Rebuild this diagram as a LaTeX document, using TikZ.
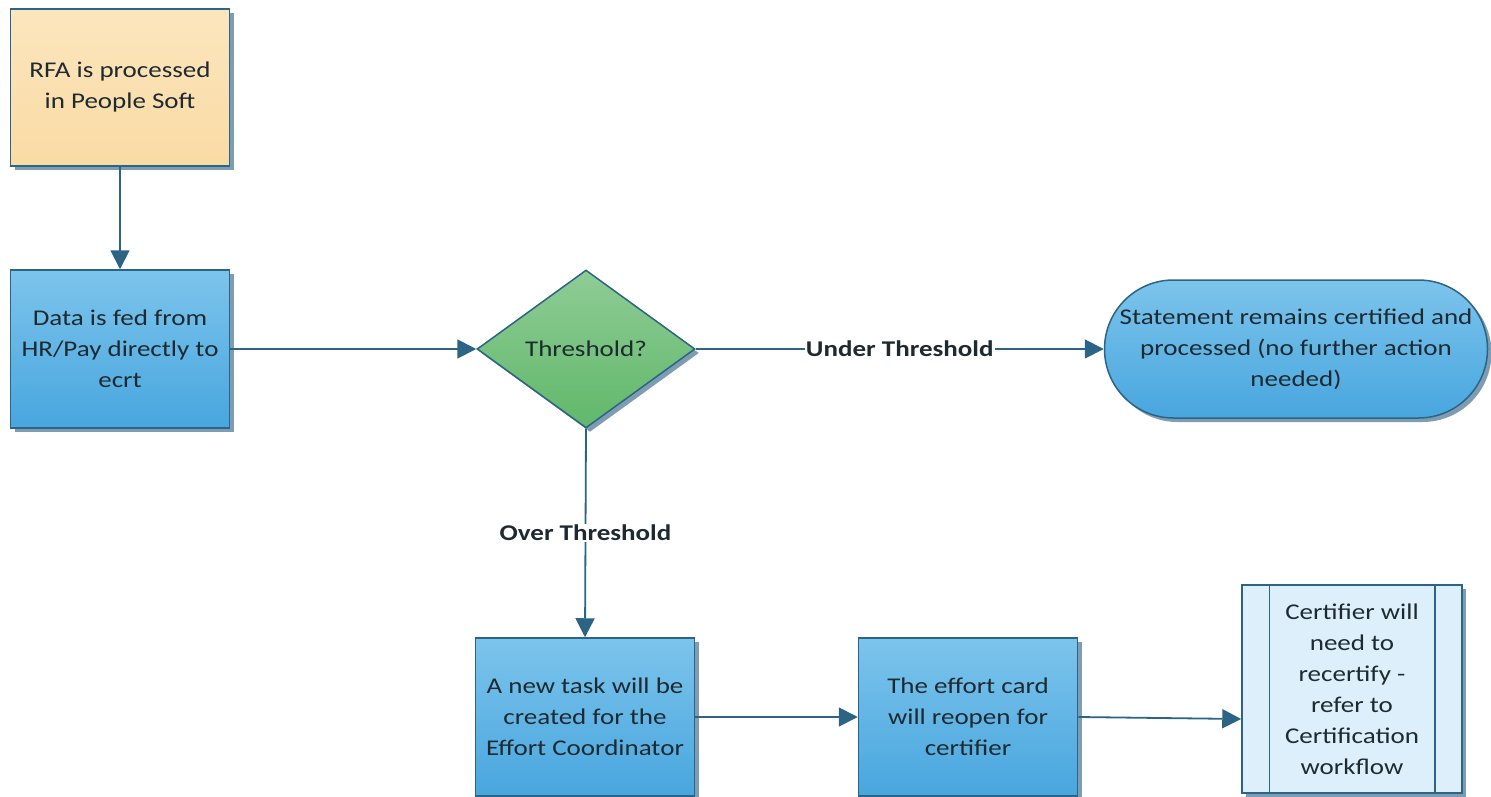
\documentclass[tikz,border=0pt]{standalone}
\usepackage{fontspec}
\setmainfont{Carlito}[FakeStretch=1.2]
\usetikzlibrary{arrows.meta,shapes.geometric,shadows}
\definecolor{edgec}{HTML}{2B6485}
\definecolor{shadowc}{HTML}{7E9CB2}
\definecolor{txtc}{HTML}{1E2A30}
\definecolor{blueT}{HTML}{7CC4EC}
\definecolor{blueB}{HTML}{48A6DE}
\definecolor{greenT}{HTML}{8FCC95}
\definecolor{greenB}{HTML}{60B86A}
\definecolor{orangeT}{HTML}{FCE6BE}
\definecolor{orangeB}{HTML}{F9DBA4}
\definecolor{paleblue}{HTML}{DCEFFB}
\tikzset{
  base/.style={draw=edgec, line width=1.5pt, align=center, text=txtc,
    font=\fontsize{22.5}{31}\selectfont, inner sep=0pt,
    drop shadow={shadow xshift=4pt, shadow yshift=-4pt, fill=shadowc, opacity=1}},
  procbox/.style={base, rectangle, minimum width=219pt, minimum height=158pt,
    top color=blueT, bottom color=blueB},
  startbox/.style={base, rectangle, minimum width=219pt, minimum height=157pt,
    top color=orangeT, bottom color=orangeB},
  decision/.style={base, diamond, aspect=1.38, minimum width=218pt, minimum height=158pt,
    top color=greenT, bottom color=greenB},
  terminal/.style={base, rectangle, rounded corners=69pt, minimum width=383pt,
    minimum height=138pt, top color=blueT, bottom color=blueB},
  subproc/.style={base, rectangle, minimum width=220pt, minimum height=208pt,
    fill=paleblue},
  conn/.style={draw=edgec, line width=1.8pt, -{Triangle[length=19pt,width=19pt]}},
  lbl/.style={fill=white, inner sep=1pt, text=txtc, font=\fontsize{22.5}{26}\selectfont\bfseries}
}
\begin{document}
\begin{tikzpicture}[x=1pt,y=-1pt]
\useasboundingbox (0,0) rectangle (1491,797);
\node[startbox] (rfa) at (120,87.5) {RFA is processed\\in People Soft};
\node[procbox] (data) at (120,349) {Data is fed from\\HR/Pay directly to\\ecrt};
\node[decision] (thr) at (586,349) {Threshold?};
\node[terminal] (stmt) at (1296,349) {Statement remains certified and\\processed (no further action\\needed)};
\node[procbox] (task) at (585,717) {A new task will be\\created for the\\Effort Coordinator};
\node[procbox] (card) at (968,717) {The effort card\\will reopen for\\certifier};
\node[subproc] (cert) at (1352,689) {Certifier will\\need to\\recertify -\\refer to\\Certification\\workflow};
\draw[draw=edgec, line width=1.5pt] ([xshift=28pt]cert.north west) -- ([xshift=28pt]cert.south west);
\draw[draw=edgec, line width=1.5pt] ([xshift=-28pt]cert.north east) -- ([xshift=-28pt]cert.south east);
\draw[conn] (rfa.south) -- (data.north);
\draw[conn] (data.east) -- (thr.west);
\draw[conn] (thr.east) -- node[lbl, pos=0.5] (under) {Under Threshold} (stmt.west);
\draw[conn] (thr.south) -- node[lbl, pos=0.5] (over) {Over Threshold} (task.north);
\draw[conn] (task.east) -- (task.east -| card.west);
\draw[conn] (card.east) -- ([yshift=-2pt]card.east -| cert.west);
\end{tikzpicture}
\end{document}
